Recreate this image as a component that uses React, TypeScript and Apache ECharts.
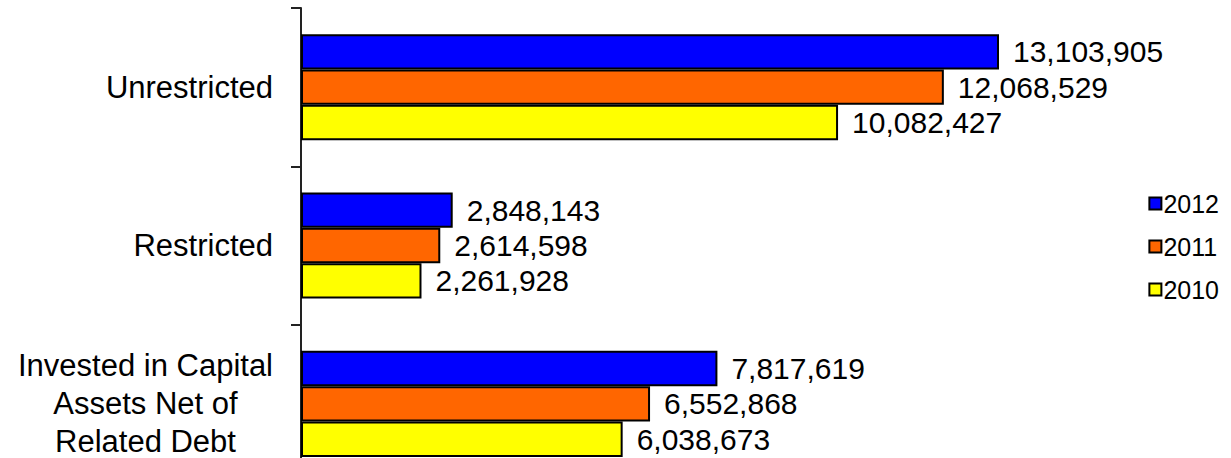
import React, { useEffect, useRef } from "react";
import * as echarts from "echarts";

const categories = [
  "Unrestricted",
  "Restricted",
  "Invested in Capital\nAssets Net of\nRelated Debt",
];
const seriesNames = ["2012", "2011", "2010"];
const values2012 = [13103905, 2848143, 7817619];
const values2011 = [12068529, 2614598, 6552868];
const values2010 = [10082427, 2261928, 6038673];
const colors = ["#0000FF", "#FF6600", "#FFFF00"];

const FONT = "'Liberation Sans', Arial, sans-serif";

export default function App() {
  const ref = useRef<HTMLDivElement>(null);
  useEffect(() => {
    if (!ref.current) return;
    const chart = echarts.init(ref.current, null, { renderer: "svg" });
    const allValues = [values2012, values2011, values2010];
    chart.setOption({
      animation: false,
      backgroundColor: "#ffffff",
      textStyle: { fontFamily: FONT },
      grid: {
        left: 301,
        top: 8,
        width: 799,
        height: 475,
        containLabel: false,
        outerBoundsMode: "none",
      },
      legend: {
        orient: "vertical",
        right: 7,
        top: 186,
        itemWidth: 12,
        itemHeight: 12,
        itemGap: 18,
        icon: "rect",
        data: seriesNames,
        textStyle: { fontSize: 25, color: "#000", fontFamily: FONT, padding: [0, 0, 0, -3] },
      },
      xAxis: {
        type: "value",
        min: 0,
        max: 15000000,
        show: false,
        splitLine: { show: false },
      },
      yAxis: {
        type: "category",
        inverse: true,
        data: categories,
        axisLine: { show: true, lineStyle: { color: "#222", width: 2 } },
        axisTick: { show: true, length: 10, lineStyle: { color: "#222", width: 2 } },
        axisLabel: {
          margin: 28,
          color: "#000",
          fontSize: 31,
          fontFamily: FONT,
          formatter: (v: string) =>
            v
              .split("\n")
              .map((l) => `{c|${l}}`)
              .join("\n"),
          rich: {
            c: { align: "center", fontSize: 31, lineHeight: 38, color: "#000", fontFamily: FONT },
          },
        },
      },
      series: seriesNames.map((name, i) => ({
        name,
        type: "bar",
        data: allValues[i],
        barGap: "0%",
        barCategoryGap: "33%",
        itemStyle: { color: colors[i], borderColor: "#000", borderWidth: 2 },
        label: {
          show: true,
          position: "right",
          distance: 14,
          color: "#000",
          fontSize: 30,
          fontFamily: FONT,
          formatter: (p: any) => Number(p.value).toLocaleString("en-US"),
        },
      })),
    });
    return () => chart.dispose();
  }, []);
  return (
    <div
      ref={ref}
      style={{ position: "absolute", left: 0, top: 0, width: 1231, height: 458 }}
    />
  );
}
